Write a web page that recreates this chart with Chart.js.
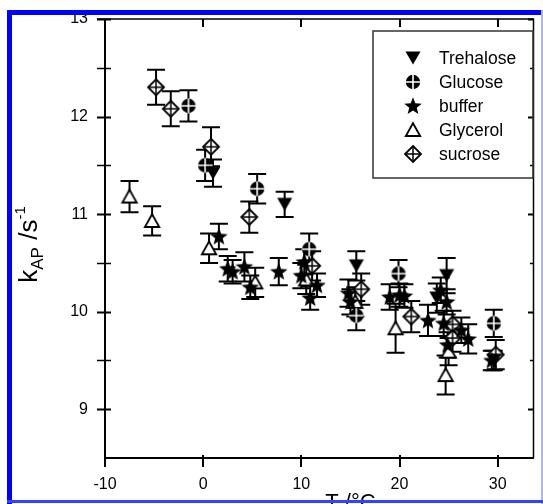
<!DOCTYPE html>
<html><head><meta charset="utf-8">
<script src="https://cdn.jsdelivr.net/npm/chart.js@4"></script>
<style>
html,body{margin:0;padding:0;background:#fff;}
#wrap{position:relative;width:543px;height:504px;overflow:hidden;background:#fff;}
#c{position:absolute;left:0;top:0;}
.bf{position:absolute;}
</style></head><body>
<div id="wrap">
<canvas id="c" width="543" height="520"></canvas>
<div class="bf" style="left:7px;top:10px;width:535px;height:5px;background:#0000ff"></div>
<div class="bf" style="left:7px;top:10px;width:5px;height:494px;background:#0000ff"></div>
<div class="bf" style="left:541px;top:10px;width:2px;height:494px;background:#aab4ff"></div>
<div class="bf" style="left:7px;top:500px;width:536px;height:3px;background:#3344ff"></div>
</div>
<script>
// ---------- data ----------
const seriesNames = ['Trehalose', 'Glucose', 'buffer', 'Glycerol', 'sucrose'];

const trehaloseT   = [1.0, 8.3, 15.6, 24.8, 23.8, 29.6];
const trehaloseK   = [11.42, 11.10, 10.47, 10.37, 10.14, 9.50];
const trehaloseErr = [0.14, 0.13, 0.15, 0.18, 0.15, 0.10];

const glucoseT   = [-1.5, 0.2, 5.5, 10.8, 15.6, 19.9, 29.6];
const glucoseK   = [12.11, 11.50, 11.26, 10.64, 9.96, 10.39, 9.88];
const glucoseErr = [0.16, 0.16, 0.15, 0.16, 0.15, 0.14, 0.14];

const bufferT   = [1.6, 2.5, 3.0, 4.2, 4.8, 7.7, 10.0, 10.3, 10.9, 11.6, 14.8, 15.0, 19.0, 20.0, 20.5, 22.9, 24.2, 24.8, 24.5, 24.9, 27.0, 26.3, 29.4];
const bufferK   = [10.77, 10.44, 10.41, 10.46, 10.25, 10.41, 10.37, 10.51, 10.14, 10.27, 10.19, 10.10, 10.15, 10.17, 10.16, 9.91, 10.22, 10.10, 9.88, 9.66, 9.72, 9.81, 9.50];
const bufferErr = [0.13, 0.13, 0.12, 0.15, 0.12, 0.14, 0.13, 0.13, 0.12, 0.12, 0.14, 0.13, 0.13, 0.12, 0.12, 0.16, 0.13, 0.13, 0.13, 0.13, 0.15, 0.13, 0.10];

const glycerolT   = [-7.5, -5.2, 0.6, 5.3, 10.5, 15.5, 19.6, 25.0, 24.7];
const glycerolK   = [11.18, 10.93, 10.65, 10.30, 10.33, 10.10, 9.83, 9.59, 9.35];
const glycerolErr = [0.16, 0.15, 0.15, 0.15, 0.15, 0.15, 0.25, 0.14, 0.20];

const sucroseT   = [-4.8, -3.3, 0.8, 4.7, 11.1, 16.1, 21.2, 25.4, 25.4, 29.8];
const sucroseK   = [12.30, 12.08, 11.69, 10.97, 10.47, 10.23, 9.95, 9.87, 9.73, 9.56];
const sucroseErr = [0.18, 0.18, 0.20, 0.16, 0.15, 0.16, 0.16, 0.14, 0.14, 0.15];

const xTickValues = [-10, 0, 10, 20, 30];
const yTickValues = [9, 10, 11, 12, 13];
const yMinorTickValues = [9.5, 10.5, 11.5, 12.5];
const xMin = -10, xMax = 33.7, yMin = 8.5, yMax = 13;

const xTitle = 'T /°C';

// ---------- marker images ----------
const FONT = "'Liberation Sans', Arial, sans-serif";
function makeImg(draw){
  const c = document.createElement('canvas'); c.width = 22; c.height = 22;
  const g = c.getContext('2d'); draw(g); return c;
}
const imgTrehalose = makeImg(g=>{
  g.fillStyle='#000'; g.beginPath();
  g.moveTo(3.5,4.5); g.lineTo(18.5,4.5); g.lineTo(11,17.5); g.closePath(); g.fill();
});
const imgGlucose = makeImg(g=>{
  g.fillStyle='#000'; g.beginPath(); g.arc(11,11,7.2,0,Math.PI*2); g.fill();
  g.strokeStyle='#fff'; g.lineWidth=1.6; g.beginPath();
  g.moveTo(3.5,11); g.lineTo(18.5,11); g.moveTo(11,3.5); g.lineTo(11,18.5); g.stroke();
});
const imgBuffer = makeImg(g=>{
  g.fillStyle='#000'; g.beginPath();
  for(let i=0;i<10;i++){
    const r = i%2===0 ? 9.2 : 3.9;
    const a = -Math.PI/2 + i*Math.PI/5;
    const px = 11 + r*Math.cos(a), py = 11.5 + r*Math.sin(a);
    i===0 ? g.moveTo(px,py) : g.lineTo(px,py);
  }
  g.closePath(); g.fill();
});
const imgGlycerol = makeImg(g=>{
  g.fillStyle='#fff'; g.strokeStyle='#000'; g.lineWidth=1.8; g.lineJoin='miter';
  g.beginPath(); g.moveTo(11,4.2); g.lineTo(18.2,17); g.lineTo(3.8,17); g.closePath(); g.fill(); g.stroke();
});
const imgSucrose = makeImg(g=>{
  g.fillStyle='#fff'; g.strokeStyle='#000'; g.lineWidth=1.8;
  g.beginPath(); g.moveTo(11,3); g.lineTo(19,11); g.lineTo(11,19); g.lineTo(3,11); g.closePath(); g.fill(); g.stroke();
  g.lineWidth=1.5; g.beginPath(); g.moveTo(3,11); g.lineTo(19,11); g.moveTo(11,3); g.lineTo(11,19); g.stroke();
});

function pts(T,K){ return T.map((t,i)=>({x:t, y:K[i]})); }

const datasets = [
  {label: seriesNames[0], data: pts(trehaloseT, trehaloseK), err: trehaloseErr, pointStyle: imgTrehalose},
  {label: seriesNames[1], data: pts(glucoseT, glucoseK), err: glucoseErr, pointStyle: imgGlucose},
  {label: seriesNames[2], data: pts(bufferT, bufferK), err: bufferErr, pointStyle: imgBuffer},
  {label: seriesNames[3], data: pts(glycerolT, glycerolK), err: glycerolErr, pointStyle: imgGlycerol},
  {label: seriesNames[4], data: pts(sucroseT, sucroseK), err: sucroseErr, pointStyle: imgSucrose},
].map(d=>Object.assign(d,{showLine:false, pointRadius:8, borderColor:'#000', backgroundColor:'#000'}));

// ---------- plugins ----------
const framePlugin = {
  id: 'frame',
  beforeDatasetsDraw(chart){
    const ctx = chart.ctx, a = chart.chartArea, xs = chart.scales.x, ys = chart.scales.y;
    ctx.save();
    ctx.strokeStyle = '#000';
    // axes lines
    ctx.lineWidth = 2;
    ctx.beginPath();
    ctx.moveTo(a.left, a.top); ctx.lineTo(a.left, a.bottom);
    ctx.moveTo(a.left - 1, a.bottom); ctx.lineTo(a.right, a.bottom);
    ctx.stroke();
    ctx.lineWidth = 1.5;
    ctx.beginPath();
    ctx.moveTo(a.left - 8, a.top); ctx.lineTo(a.right, a.top);
    ctx.moveTo(a.right - 0.5, a.top); ctx.lineTo(a.right - 0.5, a.bottom);
    ctx.stroke();
    // y ticks (left crossing, right inward)
    yTickValues.concat(yMinorTickValues).forEach(v=>{
      const y = Math.round(ys.getPixelForValue(v)) + 0.5;
      const major = yTickValues.includes(v);
      ctx.lineWidth = major ? 2 : 1.5;
      ctx.beginPath();
      ctx.moveTo(a.left - 8, y); ctx.lineTo(a.left + 6, y);
      ctx.moveTo(a.right - (major ? 6 : 4), y); ctx.lineTo(a.right, y);
      ctx.stroke();
    });
    // x ticks
    ctx.lineWidth = 2;
    xTickValues.forEach(v=>{
      const x = Math.round(xs.getPixelForValue(v));
      ctx.beginPath();
      ctx.moveTo(x, a.bottom - 3); ctx.lineTo(x, a.bottom + 9);
      if (v > xMin) { ctx.moveTo(x, a.top); ctx.lineTo(x, a.top + 8); }
      ctx.stroke();
    });
    // error bars
    ctx.lineWidth = 2;
    chart.data.datasets.forEach(ds=>{
      ds.data.forEach((p,i)=>{
        const e = ds.err[i];
        const x = xs.getPixelForValue(p.x);
        const y1 = ys.getPixelForValue(p.y + e), y2 = ys.getPixelForValue(p.y - e);
        ctx.beginPath();
        ctx.moveTo(x, y1); ctx.lineTo(x, y2);
        ctx.moveTo(x - 9, y1); ctx.lineTo(x + 9, y1);
        ctx.moveTo(x - 9, y2); ctx.lineTo(x + 9, y2);
        ctx.stroke();
      });
    });
    ctx.restore();
  },
  afterDraw(chart){
    const ctx = chart.ctx, a = chart.chartArea, xs = chart.scales.x;
    ctx.save();
    ctx.fillStyle = '#000';
    // legend
    ctx.strokeStyle = '#333'; ctx.lineWidth = 1.5;
    ctx.strokeRect(373, 31, 160, 147);
    ctx.font = '17.5px ' + FONT; ctx.textBaseline = 'middle'; ctx.textAlign = 'left';
    chart.data.datasets.forEach((ds,i)=>{
      const y = 58 + i*24;
      ctx.drawImage(ds.pointStyle, 413 - 11, y - 11);
      ctx.fillText(ds.label, 439, y + 1);
    });
    // x title
    ctx.font = '22px ' + FONT; ctx.textAlign = 'center'; ctx.textBaseline = 'alphabetic';
    ctx.fillText(xTitle, xs.getPixelForValue(15), 509);
    // y title: k_AP /s^-1
    ctx.translate(28, (a.top + a.bottom)/2 + 6);
    ctx.rotate(-Math.PI/2);
    const parts = [
      {t:'k', f:'26px ', dy:0},
      {t:'AP', f:'17px ', dy:6},
      {t:' /s', f:'26px ', dy:0},
      {t:'-1', f:'15px ', dy:-12},
    ];
    let w = 0;
    parts.forEach(p=>{ ctx.font = p.f + FONT; p.w = ctx.measureText(p.t).width; w += p.w; });
    let x = -w/2;
    ctx.textAlign = 'left';
    parts.forEach(p=>{ ctx.font = p.f + FONT; ctx.fillText(p.t, x, 9 + p.dy); x += p.w; });
    ctx.restore();
  }
};

new Chart(document.getElementById('c'), {
  type: 'scatter',
  data: { datasets },
  options: {
    responsive: false, animation: false, devicePixelRatio: 1, events: [],
    layout: { padding: { left: 0, right: 1, top: 19, bottom: 0 } },
    plugins: { legend: { display: false }, tooltip: { enabled: false } },
    scales: {
      x: {
        type: 'linear', min: xMin, max: xMax,
        afterBuildTicks(s){ s.ticks = xTickValues.map(v=>({value:v})); },
        afterFit(s){ s.height = 62; },
        grid: { drawOnChartArea: false, tickLength: 9, tickColor: 'rgba(0,0,0,0)' },
        border: { display: false },
        ticks: { color: '#000', font: { family: FONT, size: 16 }, padding: 8, maxRotation: 0 }
      },
      y: {
        type: 'linear', min: yMin, max: yMax,
        afterBuildTicks(s){ s.ticks = yTickValues.map(v=>({value:v})); },
        afterFit(s){ s.width = 105; },
        grid: { drawOnChartArea: false, tickLength: 8, tickColor: 'rgba(0,0,0,0)' },
        border: { display: false },
        ticks: { color: '#000', font: { family: FONT, size: 16 }, padding: 9 }
      }
    }
  },
  plugins: [framePlugin]
});
</script>
</body></html>
